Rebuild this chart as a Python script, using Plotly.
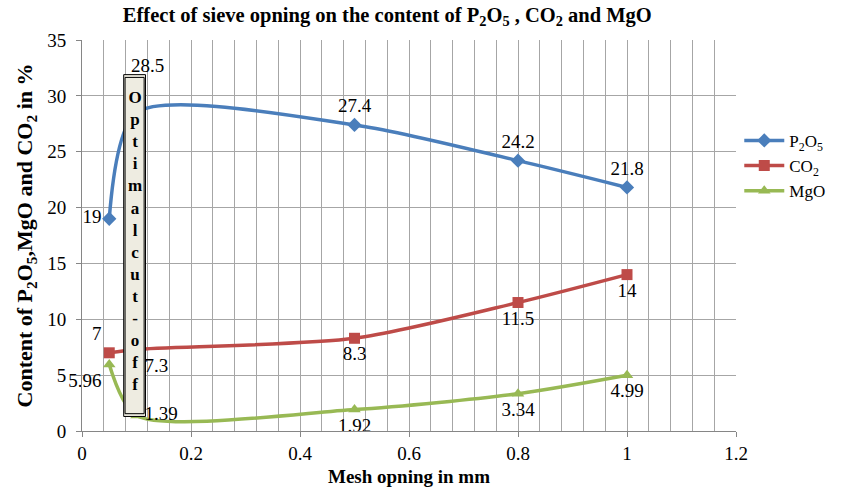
import plotly.graph_objects as go

mesh = [0.05, 0.1, 0.5, 0.8, 1.0]
p2o5 = [19, 28.5, 27.4, 24.2, 21.8]
co2 = [7, 7.3, 8.3, 11.5, 14]
mgo = [5.96, 1.39, 1.92, 3.34, 4.99]

p2o5_pos = ["middle left", "top center", "top center", "top center", "top center"]
co2_pos = ["top left", "bottom right", "bottom center", "bottom center", "bottom center"]
mgo_pos = ["bottom left", "middle right", "bottom center", "bottom center", "bottom center"]

FONT = "Liberation Serif"
BLUE, RED, GREEN = "#4A7EBB", "#BE4B48", "#98B954"

fig = go.Figure()

def add(y, name, color, symbol, pos, hide=()):
    fig.add_trace(go.Scatter(
        x=mesh, y=y, name=name, mode="lines+markers+text",
        line=dict(color=color, width=3.5, shape="spline", smoothing=0.75),
        marker=dict(color=color, symbol=symbol, size=11),
        text=["" if i in hide else str(v) for i, v in enumerate(y)], textposition=pos,
        textfont=dict(family=FONT, size=19, color="black"),
        cliponaxis=False,
    ))

add(p2o5, "P<sub>2</sub>O<sub>5</sub>", BLUE, "diamond", p2o5_pos, hide=(1,))
add(co2, "CO<sub>2</sub>", RED, "square", co2_pos)
add(mgo, "MgO", GREEN, "triangle-up", mgo_pos)

# Optimal cut-off box
fig.add_shape(type="rect", xref="x", yref="y", x0=0.0765, x1=0.1165, y0=1.3, y1=31.9,
              line=dict(color="black", width=1), fillcolor="#EEECE1", layer="above")
fig.add_shape(type="rect", xref="x", yref="y", x0=0.079, x1=0.114, y0=1.55, y1=31.65,
              line=dict(color="black", width=1), fillcolor="rgba(0,0,0,0)", layer="above")
fig.add_annotation(x=0.0965, y=17.0, xref="x", yref="y",
                   text="<b>" + "<br>".join(list("Optimalcut-off")) + "</b>",
                   showarrow=False, font=dict(family=FONT, size=17, color="black"),
                   align="center", valign="middle")
# label of the second P2O5 point, placed above the box
fig.add_annotation(x=mesh[1], y=p2o5[1], xref="x", yref="y", text=str(p2o5[1]),
                   showarrow=False, xshift=11, yshift=47,
                   font=dict(family=FONT, size=19, color="black"))

fig.update_layout(
    width=842, height=495,
    margin=dict(l=82, r=101, t=40, b=64),
    paper_bgcolor="white", plot_bgcolor="white",
    font=dict(family=FONT, size=19, color="black"),
    title=dict(text="<b>Effect of sieve opning on the content of P<sub>2</sub>O<sub>5</sub> , CO<sub>2</sub> and MgO</b>",
               x=0.46, xanchor="center", y=0.985, yanchor="top",
               font=dict(family=FONT, size=20.5)),
    showlegend=True,
    legend=dict(x=1.005, xanchor="left", y=0.678, yanchor="middle",
                font=dict(family=FONT, size=17), bgcolor="rgba(0,0,0,0)",
                itemwidth=40, tracegroupgap=0),
    xaxis=dict(range=[0, 1.2], dtick=0.2, tick0=0, showgrid=True, gridcolor="#A6A6A6", gridwidth=1,
               minor=dict(dtick=0.04, showgrid=True, gridcolor="#A6A6A6", gridwidth=1),
               showline=True, linecolor="#868686", ticks="outside", ticklen=5, tickcolor="#868686",
               zeroline=False, tickfont=dict(family=FONT, size=19),
               title=dict(text="<b>Mesh opning in mm</b>", font=dict(family=FONT, size=19), standoff=6)),
    yaxis=dict(range=[0, 35], dtick=5, showgrid=True, gridcolor="#A6A6A6", gridwidth=1,
               showline=True, linecolor="#868686", ticks="outside", ticklen=5, tickcolor="#868686",
               ticklabelstandoff=6,
               zeroline=False, tickfont=dict(family=FONT, size=19),
               title=dict(text="<b>Content of P<sub>2</sub>O<sub>5</sub>,MgO and CO<sub>2</sub> in %</b>",
                          font=dict(family=FONT, size=22), standoff=8)),
)

fig.write_html("out.html")
